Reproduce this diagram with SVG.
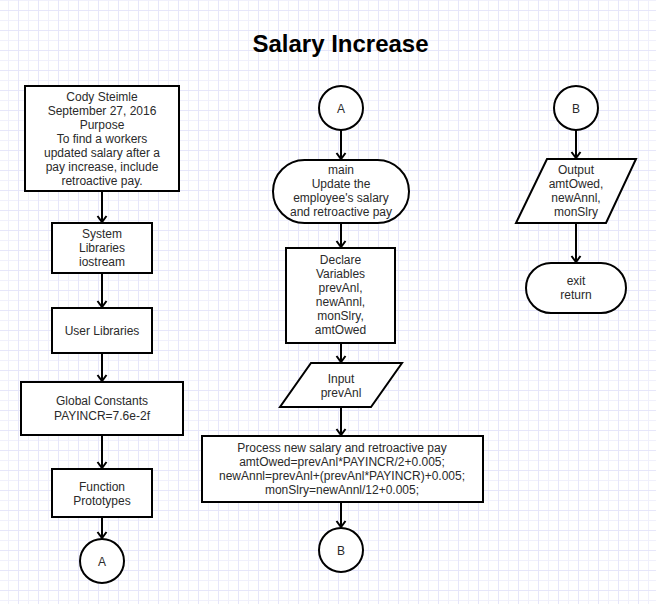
<svg xmlns="http://www.w3.org/2000/svg" width="656" height="604" viewBox="0 0 656 604">
  <style>
    .shape { fill: #ffffff; stroke: #000000; stroke-width: 2; }
    .t { font-family: "Liberation Sans", Arial, sans-serif; font-size: 12px; fill: #2a2a2a; text-anchor: middle; }
    .title { font-family: "Liberation Sans", Arial, sans-serif; font-size: 24px; font-weight: bold; fill: #000000; text-anchor: middle; }
    .edge { fill: none; stroke: #000000; stroke-width: 2; marker-end: url(#arrow); }
  </style>
  <defs>
    <pattern id="grid" patternUnits="userSpaceOnUse" x="8" y="0" width="20" height="20">
      <rect x="0" y="0" width="1" height="20" fill="#f0f0fc"/>
      <rect x="0" y="0" width="20" height="1" fill="#f0f0fc"/>
      <rect x="10" y="0" width="1" height="20" fill="#e6e6fa"/>
      <rect x="0" y="10" width="20" height="1" fill="#e6e6fa"/>
    </pattern>
    <marker id="arrow" markerUnits="userSpaceOnUse" viewBox="-8 -6 10 12" refX="0" refY="0" markerWidth="10" markerHeight="12" orient="auto" overflow="visible">
      <path d="M-6,-4.5 L0,0 L-6,4.5" fill="none" stroke="#000000" stroke-width="2"/>
    </marker>
  </defs>

  <rect x="0" y="0" width="656" height="604" fill="#ffffff"/>
  <rect x="0" y="0" width="656" height="604" fill="url(#grid)"/>

  <text class="title" x="340.5" y="52">Salary Increase</text>

  <g id="connectors">
    <path class="edge" d="M102,191 L102,222"/>
    <path class="edge" d="M102,273 L102,307"/>
    <path class="edge" d="M102,353 L102,381"/>
    <path class="edge" d="M102,435 L102,468"/>
    <path class="edge" d="M102,517 L102,538"/>
    <path class="edge" d="M341,130 L341,159"/>
    <path class="edge" d="M341,223 L341,247"/>
    <path class="edge" d="M341,343 L341,362"/>
    <path class="edge" d="M341,407 L341,435"/>
    <path class="edge" d="M341,502 L341,527"/>
    <path class="edge" d="M576,130 L576,158"/>
    <path class="edge" d="M576,223 L576,262"/>
  </g>

  <g id="header">
    <rect class="shape" x="25" y="86" width="154" height="105"/>
    <text class="t" x="102" y="100.5">Cody Steimle</text>
    <text class="t" x="102" y="114.5">September 27, 2016</text>
    <text class="t" x="102" y="128.5">Purpose</text>
    <text class="t" x="102" y="142.5">To find a workers</text>
    <text class="t" x="102" y="156.5">updated salary after a</text>
    <text class="t" x="102" y="170.5">pay increase, include</text>
    <text class="t" x="102" y="184.5">retroactive pay.</text>
  </g>

  <g id="syslib">
    <rect class="shape" x="52" y="223" width="100" height="50"/>
    <text class="t" x="102" y="238">System</text>
    <text class="t" x="102" y="252">Libraries</text>
    <text class="t" x="102" y="266">iostream</text>
  </g>

  <g id="userlib">
    <rect class="shape" x="52" y="308" width="100" height="45"/>
    <text class="t" x="102" y="335">User Libraries</text>
  </g>

  <g id="globals">
    <rect class="shape" x="21" y="382" width="162" height="53"/>
    <text class="t" x="102" y="405">Global Constants</text>
    <text class="t" x="102" y="419.5">PAYINCR=7.6e-2f</text>
  </g>

  <g id="protos">
    <rect class="shape" x="52" y="469" width="100" height="48"/>
    <text class="t" x="102" y="490.5">Function</text>
    <text class="t" x="102" y="504.5">Prototypes</text>
  </g>

  <g id="connA1">
    <circle class="shape" cx="102" cy="561" r="22"/>
    <text class="t" x="102" y="565.5">A</text>
  </g>

  <g id="connA2">
    <circle class="shape" cx="341" cy="108" r="22"/>
    <text class="t" x="341" y="112.5">A</text>
  </g>

  <g id="main">
    <rect class="shape" x="273" y="160" width="136" height="63" rx="31.5" ry="31.5"/>
    <text class="t" x="341" y="173.5">main</text>
    <text class="t" x="341" y="187.5">Update the</text>
    <text class="t" x="341" y="201.5">employee's salary</text>
    <text class="t" x="341" y="215.5">and retroactive pay</text>
  </g>

  <g id="declare">
    <rect class="shape" x="286" y="248" width="109" height="95"/>
    <text class="t" x="340.5" y="263.5">Declare</text>
    <text class="t" x="340.5" y="277.5">Variables</text>
    <text class="t" x="340.5" y="291.5">prevAnl,</text>
    <text class="t" x="340.5" y="305.5">newAnnl,</text>
    <text class="t" x="340.5" y="319.5">monSlry,</text>
    <text class="t" x="340.5" y="333.5">amtOwed</text>
  </g>

  <g id="input">
    <polygon class="shape" points="311,363 402,363 371,407 280,407"/>
    <text class="t" x="341" y="383">Input</text>
    <text class="t" x="341" y="397">prevAnl</text>
  </g>

  <g id="process">
    <rect class="shape" x="202" y="436" width="281" height="66"/>
    <text class="t" x="342" y="452">Process new salary and retroactive pay</text>
    <text class="t" x="342" y="466">amtOwed=prevAnl*PAYINCR/2+0.005;</text>
    <text class="t" x="342" y="480">newAnnl=prevAnl+(prevAnl*PAYINCR)+0.005;</text>
    <text class="t" x="342" y="494">monSlry=newAnnl/12+0.005;</text>
  </g>

  <g id="connB1">
    <circle class="shape" cx="341" cy="550" r="22"/>
    <text class="t" x="341" y="554.5">B</text>
  </g>

  <g id="connB2">
    <circle class="shape" cx="576" cy="108" r="22"/>
    <text class="t" x="576" y="112.5">B</text>
  </g>

  <g id="output">
    <polygon class="shape" points="547,159 636,159 606,223 516,223"/>
    <text class="t" x="576" y="174">Output</text>
    <text class="t" x="576" y="188">amtOwed,</text>
    <text class="t" x="576" y="202">newAnnl,</text>
    <text class="t" x="576" y="216">monSlry</text>
  </g>

  <g id="exit">
    <rect class="shape" x="526" y="263" width="100" height="50" rx="25" ry="25"/>
    <text class="t" x="576" y="284.5">exit</text>
    <text class="t" x="576" y="298.5">return</text>
  </g>
</svg>
